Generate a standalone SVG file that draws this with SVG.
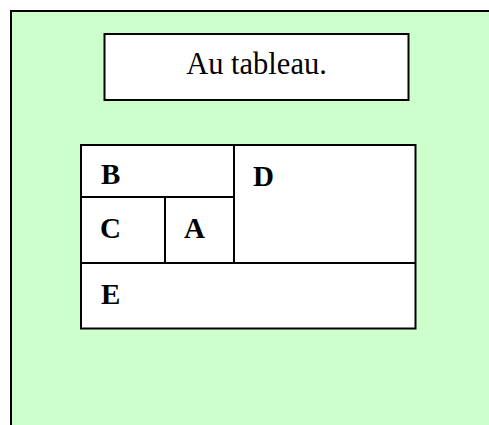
<svg xmlns="http://www.w3.org/2000/svg" width="489" height="425" viewBox="0 0 489 425">
<style>
.box{fill:#ffffff;stroke:#000000;stroke-width:2}
.t{font-family:"Liberation Serif","Times New Roman",serif;fill:#000}
.lbl{font-family:"Liberation Serif","Times New Roman",serif;font-weight:bold;font-size:29px;fill:#000}
</style>
<g id="background">
<rect x="11" y="11" width="490" height="430" fill="#ccffcc" stroke="#000" stroke-width="2"/>
</g>
<g id="title">
<rect class="box" x="104.5" y="34" width="304" height="66"/>
<text class="t" x="256.5" y="73.5" font-size="30.5" text-anchor="middle">Au tableau.</text>
</g>
<g id="table">
<rect class="box" x="81" y="145" width="334.5" height="183.5"/>
</g>
<g id="connectors">
<line x1="81" y1="197" x2="234" y2="197" stroke="#000" stroke-width="2"/>
<line x1="165" y1="197" x2="165" y2="263" stroke="#000" stroke-width="2"/>
<line x1="234" y1="145" x2="234" y2="263" stroke="#000" stroke-width="2"/>
<line x1="81" y1="263" x2="415.5" y2="263" stroke="#000" stroke-width="2"/>
</g>
<g id="B"><text class="lbl" x="101" y="183.5">B</text></g>
<g id="C"><text class="lbl" x="100" y="237.5">C</text></g>
<g id="A"><text class="lbl" x="184" y="237.5">A</text></g>
<g id="D"><text class="lbl" x="253" y="185.5">D</text></g>
<g id="E"><text class="lbl" x="101" y="303.5">E</text></g>
</svg>
